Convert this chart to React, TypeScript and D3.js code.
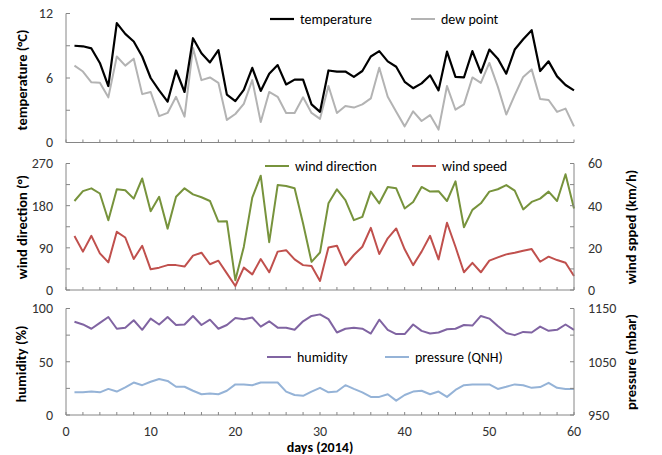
import * as d3 from 'd3';

// daily weather readings, days 1..60 of 2014
const days = d3.range(1, 61);

const temperature = [
  9.0, 8.95, 8.75, 7.4, 5.25, 11.1, 10.1, 9.4, 8.0, 6.0,
  4.85, 3.8, 6.7, 4.7, 9.7, 8.3, 7.45, 8.6, 4.45, 3.85,
  4.9, 6.95, 4.8, 6.4, 7.2, 5.4, 5.85, 5.85, 3.55, 2.85,
  6.7, 6.6, 6.6, 6.1, 6.65, 8.0, 8.5, 7.55, 7.05, 5.65,
  5.05, 5.5, 6.25, 4.85, 8.45, 6.1, 6.05, 8.5, 6.5, 8.65,
  7.8, 6.4, 8.65, 9.6, 10.45, 6.65, 7.55, 6.15, 5.35, 4.85,
];

const dewPoint = [
  7.15, 6.6, 5.6, 5.55, 4.2, 8.0, 7.15, 7.8, 4.5, 4.7,
  2.45, 2.75, 4.25, 2.4, 8.8, 5.8, 6.05, 5.55, 2.1, 2.65,
  3.6, 5.8, 1.9, 4.7, 4.25, 2.75, 2.75, 4.2, 2.75, 2.2,
  5.25, 2.75, 3.4, 3.25, 3.55, 4.1, 6.95, 4.25, 2.85, 1.5,
  2.9, 2.0, 2.55, 1.2, 5.25, 3.05, 3.55, 6.05, 5.55, 7.4,
  5.2, 2.6, 4.4, 6.1, 6.8, 4.05, 3.95, 2.85, 3.15, 1.5,
];

const windDirection = [
  190, 211, 217, 206, 149, 215, 213, 195, 238, 168,
  199, 131, 199, 217, 204, 198, 190, 146, 147, 21,
  92, 197, 244, 102, 224, 222, 217, 142, 60, 80,
  185, 215, 192, 149, 156, 210, 185, 220, 217, 174,
  188, 220, 210, 211, 190, 232, 134, 171, 185, 210,
  215, 224, 212, 172, 188, 195, 210, 190, 247, 174,
];

const windSpeed = [
  25.6, 18.2, 25.7, 17.4, 13.1, 27.6, 24.9, 14.7, 21.0, 9.8,
  10.6, 11.8, 11.8, 11.1, 16.3, 17.7, 12.2, 13.9, 7.9, 1.9,
  10.6, 7.4, 14.7, 8.4, 18.2, 18.9, 14.5, 11.8, 11.4, 4.3,
  20.2, 21.0, 11.8, 16.6, 20.5, 29.5, 17.1, 24.5, 29.2, 19.3,
  11.8, 18.2, 25.7, 14.5, 31.9, 20.5, 8.4, 12.9, 8.4, 13.9,
  15.5, 16.9, 17.7, 18.6, 19.4, 13.4, 15.8, 14.2, 12.9, 6.6,
];

const humidity = [
  87.5, 85, 81, 86.5, 92, 81, 82, 89, 80, 90.5,
  85, 92, 84.5, 85, 93, 84.5, 89.5, 81, 84.5, 91,
  90, 91.5, 83, 88, 82, 82, 80, 88, 93, 94.5,
  90, 77.5, 81, 82, 81, 76.5, 89.5, 80, 76, 76,
  85, 79, 76.5, 77.5, 80.5, 81, 84.5, 84, 93, 90.5,
  83.5, 77, 75, 78, 77.5, 83, 79, 80, 85, 80,
];

const pressure = [
  992.5, 992.5, 994, 992.5, 999, 994, 1002, 1011, 1006, 1012.5,
  1017.5, 1014, 1003, 1003, 995.5, 989, 990.5, 989, 995.5, 1007.5,
  1007.5, 1006, 1011, 1011, 1011, 994, 987.5, 986, 994, 1001,
  992.5, 994, 1006, 999, 992.5, 984, 984, 989, 977, 987.5,
  994, 995.5, 989, 994, 984, 997, 1006, 1007.5, 1007.5, 1007.5,
  999, 1003, 1007.5, 1006, 1001, 1002.5, 1010.5, 1001, 999, 999,
];

const xTickLabels = [0, 10, 20, 30, 40, 50, 60];

const FONT = "Carlito, Calibri, Lato, 'Open Sans', sans-serif";
const AXIS = '#868686';
const TEXT = '#333333';

const W = 662;
const H = 455;
const left = 66;
const right = 574;

const x = d3.scaleLinear().domain([0, 60]).range([left, right]);

// one horizontal strip of the chart
function Panel(props: {
  top: number;
  bottom: number;
  yDomain: [number, number];
  yMinor: number;
  yMajor: number;
  y2Domain?: [number, number];
  y2Minor?: number;
  y2Major?: number;
  showXLabels?: boolean;
  series: { values: number[]; color: string; width: number; right?: boolean }[];
}) {
  const { top, bottom, yDomain, yMinor, yMajor, y2Domain, y2Minor, y2Major, series } = props;
  const y = d3.scaleLinear().domain(yDomain).range([bottom, top]);
  const y2 = y2Domain ? d3.scaleLinear().domain(y2Domain).range([bottom, top]) : null;
  const yTicks = d3.range(yDomain[0], yDomain[1] + 0.001, yMinor);
  const y2Ticks = y2Domain && y2Minor ? d3.range(y2Domain[0], y2Domain[1] + 0.001, y2Minor) : [];
  const xTicks = d3.range(0, 61, 2);

  return (
    <g>
      {series.map((s, i) => {
        const sc = s.right && y2 ? y2 : y;
        const line = d3
          .line<number>()
          .x((_, j) => x(days[j]))
          .y((v) => sc(v));
        return (
          <path
            key={i}
            d={line(s.values) || ''}
            fill="none"
            stroke={s.color}
            strokeWidth={s.width}
            strokeLinejoin="round"
          />
        );
      })}
      {/* left axis */}
      <line x1={left} x2={left} y1={top} y2={bottom} stroke={AXIS} />
      {yTicks.map((t) => (
        <g key={'l' + t}>
          <line x1={left} x2={left + 4} y1={y(t)} y2={y(t)} stroke={AXIS} />
          {Math.abs((t - yDomain[0]) % yMajor) < 0.001 && (
            <text x={53} y={y(t)} dy="0.35em" textAnchor="end" fontSize={14} fill={TEXT} fontFamily={FONT}>
              {t}
            </text>
          )}
        </g>
      ))}
      {/* right axis */}
      {y2 && y2Domain && (
        <g>
          <line x1={right} x2={right} y1={top} y2={bottom} stroke={AXIS} />
          {y2Ticks.map((t) => (
            <g key={'r' + t}>
              <line x1={right - 4} x2={right} y1={y2(t)} y2={y2(t)} stroke={AXIS} />
              {y2Major && Math.abs((t - y2Domain[0]) % y2Major) < 0.001 && (
                <text x={588} y={y2(t)} dy="0.35em" fontSize={14} fill={TEXT} fontFamily={FONT}>
                  {t}
                </text>
              )}
            </g>
          ))}
        </g>
      )}
      {/* bottom axis */}
      <line x1={left} x2={right} y1={bottom} y2={bottom} stroke={AXIS} />
      {xTicks.map((t) => (
        <line key={'x' + t} x1={x(t)} x2={x(t)} y1={bottom} y2={bottom - 3} stroke={AXIS} />
      ))}
      {props.showXLabels &&
        xTickLabels.map((t) => (
          <text key={'xl' + t} x={x(t)} y={436} textAnchor="middle" fontSize={14} fill={TEXT} fontFamily={FONT}>
            {t}
          </text>
        ))}
    </g>
  );
}

function Legend(props: { x: number; y: number; color: string; label: string; width?: number }) {
  return (
    <g>
      <line x1={props.x} x2={props.x + 24} y1={props.y} y2={props.y} stroke={props.color} strokeWidth={props.width || 2} />
      <text x={props.x + 30} y={props.y} dy="0.35em" fontSize={14} fill="#000" fontFamily={FONT}>
        {props.label}
      </text>
    </g>
  );
}

function YTitle(props: { x: number; y: number; label: string }) {
  return (
    <text
      transform={`translate(${props.x},${props.y}) rotate(-90)`}
      textAnchor="middle"
      dy="0.35em"
      fontSize={14.5}
      fontWeight="bold"
      fill="#000"
      fontFamily={FONT}
    >
      {props.label}
    </text>
  );
}

const App = () => {
  return (
    <svg width={W} height={H} style={{ position: 'absolute', left: 0, top: 0, background: '#fff' }}>
      <Panel
        top={13.5}
        bottom={142.5}
        yDomain={[0, 12]}
        yMinor={3}
        yMajor={6}
        series={[
          { values: dewPoint, color: '#b3b3b3', width: 2 },
          { values: temperature, color: '#000000', width: 2.2 },
        ]}
      />
      <Legend x={270} y={19} color="#000000" label="temperature" width={2.2} />
      <Legend x={411} y={19} color="#b3b3b3" label="dew point" />
      <YTitle x={22} y={80} label="temperature (°C)" />

      <Panel
        top={163.5}
        bottom={290}
        yDomain={[0, 270]}
        yMinor={45}
        yMajor={90}
        y2Domain={[0, 60]}
        y2Minor={10}
        y2Major={20}
        series={[
          { values: windDirection, color: '#77933c', width: 2 },
          { values: windSpeed, color: '#c0504d', width: 2, right: true },
        ]}
      />
      <Legend x={265} y={166} color="#77933c" label="wind direction" />
      <Legend x={412} y={166} color="#c0504d" label="wind speed" />
      <YTitle x={22} y={227} label="wind direction (°)" />
      <YTitle x={631} y={227} label="wind spped (km/h)" />

      <Panel
        top={308.5}
        bottom={415}
        yDomain={[0, 100]}
        yMinor={25}
        yMajor={50}
        y2Domain={[950, 1150]}
        y2Minor={50}
        y2Major={100}
        showXLabels
        series={[
          { values: humidity, color: '#8064a2', width: 2 },
          { values: pressure, color: '#95b3d7', width: 2, right: true },
        ]}
      />
      <Legend x={267} y={357} color="#8064a2" label="humidity" />
      <Legend x={385} y={357} color="#95b3d7" label="pressure (QNH)" />
      <YTitle x={21} y={364} label="humidity (%)" />
      <YTitle x={631} y={362} label="pressure (mbar)" />

      <text x={320} y={452} textAnchor="middle" fontSize={14} fontWeight="bold" fill="#000" fontFamily={FONT}>
        days (2014)
      </text>
    </svg>
  );
};

export default App;
